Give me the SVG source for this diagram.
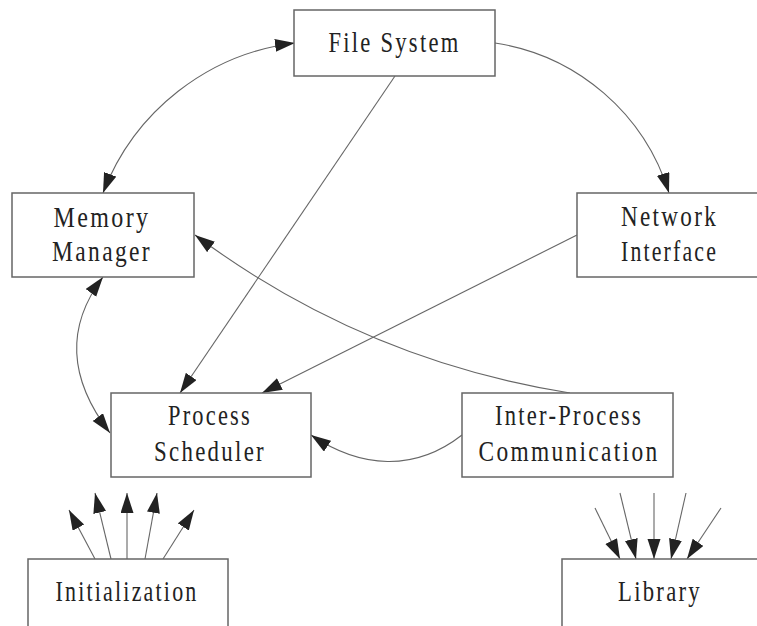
<svg xmlns="http://www.w3.org/2000/svg" width="757" height="626" viewBox="0 0 757 626">
<style>
.box{fill:#fff;stroke:#666;stroke-width:1.5}
.t{font-family:"Liberation Serif","Times New Roman",serif;font-size:30px;letter-spacing:3px;fill:#222;text-anchor:middle}
.c{fill:none;stroke:#666;stroke-width:1.1}
</style>
<defs>
<marker id="ah" markerUnits="userSpaceOnUse" markerWidth="22" markerHeight="14" refX="20" refY="6.5" orient="auto-start-reverse">
<path d="M0,0 L20,6.5 L0,13 z" fill="#222"/>
</marker>
</defs>
<rect width="757" height="626" fill="#fff"/>
<g id="connectors">
<path class="c" d="M103,193 A236,236 0 0,1 295,43" marker-start="url(#ah)" marker-end="url(#ah)"/>
<path class="c" d="M495,43 A216,216 0 0,1 669,193" marker-end="url(#ah)"/>
<path class="c" d="M103,277 Q47,351 110,433" marker-start="url(#ah)" marker-end="url(#ah)"/>
<path class="c" d="M395,76 L180,393" marker-end="url(#ah)"/>
<path class="c" d="M577,235 L262,393" marker-end="url(#ah)"/>
<path class="c" d="M570,393 Q363,360 195,235" marker-end="url(#ah)"/>
<path class="c" d="M462,435 C414.6,472 360.8,468.6 311,435" marker-end="url(#ah)"/>
<path class="c" d="M95,559 L69,510" marker-end="url(#ah)"/>
<path class="c" d="M111,559 L95,493" marker-end="url(#ah)"/>
<path class="c" d="M127,559 L127,493" marker-end="url(#ah)"/>
<path class="c" d="M145,559 L157,493" marker-end="url(#ah)"/>
<path class="c" d="M163,559 L194,510" marker-end="url(#ah)"/>
<path class="c" d="M595,508 L620,559" marker-end="url(#ah)"/>
<path class="c" d="M620,493 L636,559" marker-end="url(#ah)"/>
<path class="c" d="M654,493 L654,559" marker-end="url(#ah)"/>
<path class="c" d="M686,493 L671,559" marker-end="url(#ah)"/>
<path class="c" d="M721,508 L687,559" marker-end="url(#ah)"/>
</g>
<g id="file-system">
<rect class="box" x="294" y="10" width="201" height="66"/>
<text class="t" x="394.5" y="52" textLength="132" lengthAdjust="spacingAndGlyphs">File System</text>
</g>
<g id="memory-manager">
<rect class="box" x="12" y="193" width="182" height="84"/>
<text class="t" x="102" y="227" textLength="97" lengthAdjust="spacingAndGlyphs">Memory</text>
<text class="t" x="102" y="261" textLength="100" lengthAdjust="spacingAndGlyphs">Manager</text>
</g>
<g id="network-interface">
<rect class="box" x="577" y="193" width="185" height="84"/>
<text class="t" x="669.5" y="226" textLength="97" lengthAdjust="spacingAndGlyphs">Network</text>
<text class="t" x="669.5" y="261" textLength="97" lengthAdjust="spacingAndGlyphs">Interface</text>
</g>
<g id="process-scheduler">
<rect class="box" x="111" y="393" width="200" height="84"/>
<text class="t" x="210" y="425" textLength="84" lengthAdjust="spacingAndGlyphs">Process</text>
<text class="t" x="210" y="461" textLength="112" lengthAdjust="spacingAndGlyphs">Scheduler</text>
</g>
<g id="ipc">
<rect class="box" x="462" y="393" width="211" height="84"/>
<text class="t" x="569" y="425" textLength="148" lengthAdjust="spacingAndGlyphs">Inter-Process</text>
<text class="t" x="569" y="461" textLength="181" lengthAdjust="spacingAndGlyphs">Communication</text>
</g>
<g id="initialization">
<rect class="box" x="28" y="559" width="200" height="80"/>
<text class="t" x="127" y="601" textLength="143" lengthAdjust="spacingAndGlyphs">Initialization</text>
</g>
<g id="library">
<rect class="box" x="562" y="559" width="200" height="80"/>
<text class="t" x="660" y="601" textLength="84" lengthAdjust="spacingAndGlyphs">Library</text>
</g>
</svg>
